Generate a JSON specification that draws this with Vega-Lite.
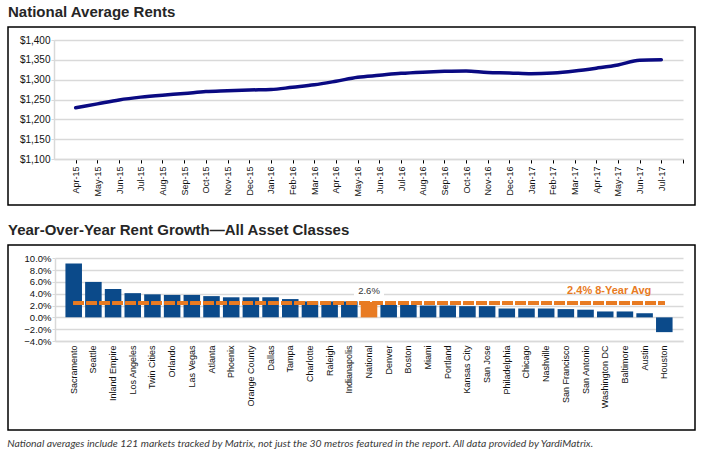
{
  "$schema": "https://vega.github.io/schema/vega-lite/v6.json",
  "padding": {"left": 7, "top": 4, "right": 10, "bottom": 4},
  "background": "white",
  "config": {
    "font": "Liberation Sans",
    "view": {"stroke": "#000", "strokeWidth": 1.5},
    "title": {"anchor": "start", "fontSize": 15, "fontWeight": "bold", "color": "#262626", "font": "Liberation Sans", "offset": 7, "baseline": "alphabetic"},
    "axis": {"labelFont": "Liberation Sans", "labelColor": "#111", "title": null, "domainColor": "#d9d9d9", "domainWidth": 1.5, "gridColor": "#d9d9d9", "gridWidth": 1.7, "labelOverlap": false}
  },
  "title": {"text": "National averages include 121 markets tracked by Matrix, not just the 30 metros featured in the report. All data provided by YardiMatrix.", "orient": "bottom", "anchor": "start", "font": "Lato", "fontStyle": "italic", "fontWeight": "normal", "fontSize": 10.4, "color": "#3a3a3a", "offset": 8, "baseline": "top"},
  "spacing": 16,
  "vconcat": [
    {
      "title": {"text": "National Average Rents"},
      "width": 687,
      "height": 178,
      "data": {"values": [
        {"month": "Apr-15", "rent": 1229}, {"month": "May-15", "rent": 1239}, {"month": "Jun-15", "rent": 1249},
        {"month": "Jul-15", "rent": 1256}, {"month": "Aug-15", "rent": 1261}, {"month": "Sep-15", "rent": 1265},
        {"month": "Oct-15", "rent": 1270}, {"month": "Nov-15", "rent": 1272}, {"month": "Dec-15", "rent": 1274},
        {"month": "Jan-16", "rent": 1275}, {"month": "Feb-16", "rent": 1281}, {"month": "Mar-16", "rent": 1287},
        {"month": "Apr-16", "rent": 1296}, {"month": "May-16", "rent": 1306}, {"month": "Jun-16", "rent": 1311},
        {"month": "Jul-16", "rent": 1316}, {"month": "Aug-16", "rent": 1319}, {"month": "Sep-16", "rent": 1321},
        {"month": "Oct-16", "rent": 1322}, {"month": "Nov-16", "rent": 1318}, {"month": "Dec-16", "rent": 1317},
        {"month": "Jan-17", "rent": 1315}, {"month": "Feb-17", "rent": 1317}, {"month": "Mar-17", "rent": 1322},
        {"month": "Apr-17", "rent": 1329}, {"month": "May-17", "rent": 1337}, {"month": "Jun-17", "rent": 1349},
        {"month": "Jul-17", "rent": 1350}
      ]},
      "mark": {"type": "line", "color": "#0a0a82", "strokeWidth": 3.5, "interpolate": "monotone", "strokeCap": "round"},
      "encoding": {
        "x": {
          "field": "month", "type": "ordinal", "sort": null,
          "scale": {"type": "point", "domain": ["Apr-15","May-15","Jun-15","Jul-15","Aug-15","Sep-15","Oct-15","Nov-15","Dec-15","Jan-16","Feb-16","Mar-16","Apr-16","May-16","Jun-16","Jul-16","Aug-16","Sep-16","Oct-16","Nov-16","Dec-16","Jan-17","Feb-17","Mar-17","Apr-17","May-17","Jun-17","Jul-17"," "], "range": [46, 675], "padding": 0.5, "align": 1},
          "axis": {"orient": "bottom", "offset": -46, "labelAngle": -90, "labelAlign": "right", "labelBaseline": "middle", "labelFontSize": 9, "labelPadding": 3, "tickSize": 4, "tickColor": "#000", "tickWidth": 1, "grid": false}
        },
        "y": {
          "field": "rent", "type": "quantitative",
          "scale": {"domain": [1100, 1400], "range": [132, 13], "nice": false, "zero": false},
          "axis": {"offset": -46, "values": [1100, 1150, 1200, 1250, 1300, 1350, 1400], "tickCount": 20, "format": "$,.0f", "labelFontSize": 10, "labelPadding": 1, "tickSize": 3, "tickColor": "#d9d9d9", "grid": true}
        }
      }
    },
    {
      "title": {"text": "Year-Over-Year Rent Growth—All Asset Classes"},
      "width": 687,
      "height": 185,
      "data": {"values": [
        {"market": "Sacramento", "growth": 9.1, "kind": "Metro"},
        {"market": "Seattle", "growth": 6.0, "kind": "Metro"},
        {"market": "Inland Empire", "growth": 4.8, "kind": "Metro"},
        {"market": "Los Angeles", "growth": 4.1, "kind": "Metro"},
        {"market": "Twin Cities", "growth": 3.9, "kind": "Metro"},
        {"market": "Orlando", "growth": 3.8, "kind": "Metro"},
        {"market": "Las Vegas", "growth": 3.8, "kind": "Metro"},
        {"market": "Atlanta", "growth": 3.6, "kind": "Metro"},
        {"market": "Phoenix", "growth": 3.4, "kind": "Metro"},
        {"market": "Orange County", "growth": 3.4, "kind": "Metro"},
        {"market": "Dallas", "growth": 3.4, "kind": "Metro"},
        {"market": "Tampa", "growth": 3.1, "kind": "Metro"},
        {"market": "Charlotte", "growth": 2.7, "kind": "Metro"},
        {"market": "Raleigh", "growth": 2.7, "kind": "Metro"},
        {"market": "Indianapolis", "growth": 2.7, "kind": "Metro"},
        {"market": "National", "growth": 2.6, "kind": "National"},
        {"market": "Denver", "growth": 2.1, "kind": "Metro"},
        {"market": "Boston", "growth": 2.1, "kind": "Metro"},
        {"market": "Miami", "growth": 2.0, "kind": "Metro"},
        {"market": "Portland", "growth": 2.0, "kind": "Metro"},
        {"market": "Kansas City", "growth": 1.9, "kind": "Metro"},
        {"market": "San Jose", "growth": 1.9, "kind": "Metro"},
        {"market": "Philadelphia", "growth": 1.5, "kind": "Metro"},
        {"market": "Chicago", "growth": 1.5, "kind": "Metro"},
        {"market": "Nashville", "growth": 1.5, "kind": "Metro"},
        {"market": "San Francisco", "growth": 1.4, "kind": "Metro"},
        {"market": "San Antonio", "growth": 1.3, "kind": "Metro"},
        {"market": "Washington DC", "growth": 1.0, "kind": "Metro"},
        {"market": "Baltimore", "growth": 1.0, "kind": "Metro"},
        {"market": "Austin", "growth": 0.7, "kind": "Metro"},
        {"market": "Houston", "growth": -2.5, "kind": "Metro"}
      ]},
      "encoding": {
        "x": {
          "field": "market", "type": "nominal", "sort": null,
          "scale": {"type": "band", "domain": ["Sacramento","Seattle","Inland Empire","Los Angeles","Twin Cities","Orlando","Las Vegas","Atlanta","Phoenix","Orange County","Dallas","Tampa","Charlotte","Raleigh","Indianapolis","National","Denver","Boston","Miami","Portland","Kansas City","San Jose","Philadelphia","Chicago","Nashville","San Francisco","San Antonio","Washington DC","Baltimore","Austin","Houston"], "range": [47, 675], "paddingInner": 0.16, "paddingOuter": 0.53},
          "axis": {"orient": "bottom", "offset": -89, "labelAngle": -90, "labelAlign": "right", "labelBaseline": "middle", "labelFontSize": 9, "labelPadding": 4, "ticks": false, "grid": false}
        }
      },
      "layer": [
        {
          "mark": {"type": "bar"},
          "encoding": {
            "y": {"field": "growth", "type": "quantitative", "scale": {"domain": [-4, 10], "range": [96, 13.3], "nice": false, "zero": false},
              "axis": {"offset": -47, "values": [-4, -2, 0, 2, 4, 6, 8, 10], "tickCount": 20, "labelExpr": "format(datum.value, '.1f') + '%'", "labelFontSize": 9.5, "labelPadding": 1, "tickSize": 3, "tickColor": "#d9d9d9", "grid": true, "labelOverlap": false}},
            "color": {"field": "kind", "type": "nominal", "scale": {"domain": ["Metro", "National"], "range": ["#0b4a8a", "#e87b23"]}, "legend": null}
          }
        },
        {
          "transform": [{"filter": "datum.market === 'National'"}],
          "mark": {"type": "bar", "color": "white", "width": 30},
          "encoding": {
            "y": {"datum": 3.6},
            "y2": {"datum": 4.5}
          }
        },
        {
          "mark": {"type": "rule", "color": "#e87b23", "strokeWidth": 3, "strokeDash": [10, 3]},
          "encoding": {
            "x": {"datum": "Sacramento", "bandPosition": 0.5},
            "x2": {"datum": "Houston", "bandPosition": 0.5},
            "y": {"datum": 2.4}
          }
        },
        {
          "transform": [{"filter": "datum.market === 'National'"}],
          "mark": {"type": "text", "fontSize": 9.5, "color": "#333", "baseline": "alphabetic", "font": "Liberation Sans"},
          "encoding": {
            "y": {"datum": 4.0},
            "text": {"value": "2.6%"}
          }
        },
        {
          "transform": [{"filter": "datum.market === 'Houston'"}],
          "mark": {"type": "text", "fontSize": 11, "fontWeight": "bold", "color": "#e87b23", "align": "right", "baseline": "alphabetic", "dx": -13, "font": "Liberation Sans"},
          "encoding": {
            "y": {"datum": 4.0},
            "text": {"value": "2.4% 8-Year Avg"}
          }
        }
      ]
    }
  ]
}
